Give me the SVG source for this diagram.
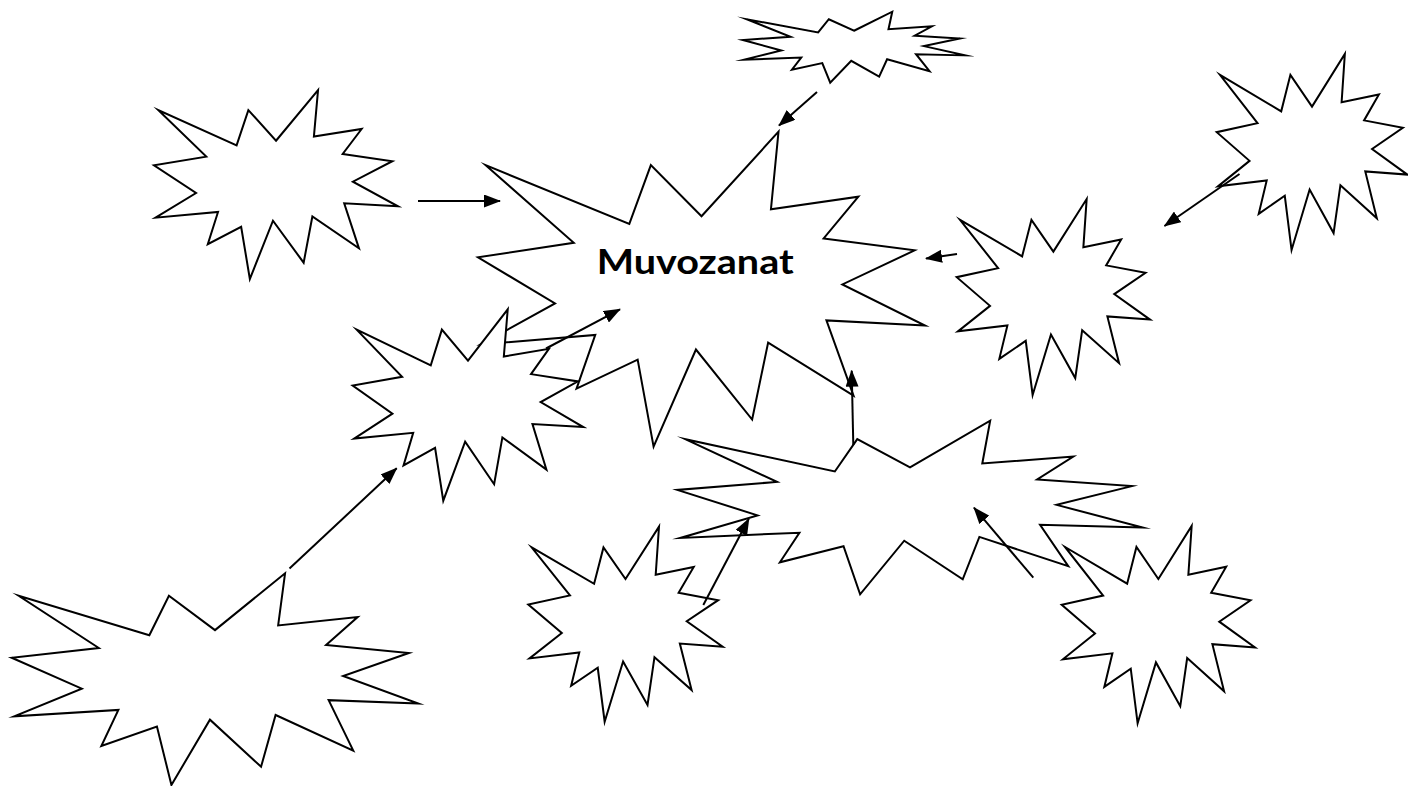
<svg xmlns="http://www.w3.org/2000/svg" width="1408" height="786" viewBox="0 0 1408 786">
<style>
.seal{fill:#ffffff;stroke:#000000;stroke-width:2;stroke-linejoin:miter;stroke-miterlimit:20}
.conn{fill:none;stroke:#000000;stroke-width:2}
.lbl{font-family:Lato,"Open Sans","Liberation Sans",sans-serif;font-weight:bold;font-size:34px;fill:#000000}
</style>
<defs>
<marker id="arr" markerUnits="userSpaceOnUse" markerWidth="17" markerHeight="13" refX="16" refY="6.5" orient="auto">
<path d="M0,0 L17,6.5 L0,13 Z" fill="#000000"/>
</marker>
</defs>
<rect width="1408" height="786" fill="#ffffff"/>

<g id="node-main">
<polygon class="seal" points="701.5,216.28 778.52,131.7 770.93,209.36 858.37,196.7 823.64,238.38 914.59,250.36 842.37,284.46 925,325.51 826.43,320.44 853.5,395.58 768.13,342.53 752.14,419.53 695.95,349.5 653.59,446.7 637.66,359.59 576.55,388.61 595.27,334.95 480.79,344.43 555.02,303.42 478,257.33 573.75,242.78 485.66,165.17 629.32,223.87 650.84,165.17"/>
<text class="lbl" x="596.7" y="274" textLength="197" lengthAdjust="spacingAndGlyphs">Muvozanat</text>
</g>

<g id="node-a">
<polygon class="seal" points="276,140.75 318.04,90 313.9,136.59 361.63,129 342.67,154.01 392.32,161.2 352.89,181.66 398,206.29 344.2,203.24 358.97,248.33 312.37,216.5 303.64,262.7 272.97,220.68 249.85,279 241.15,226.74 207.79,244.15 218.02,211.95 155.53,217.64 196.04,193.03 154,165.38 206.27,156.65 158.18,110.08 236.6,145.3 248.35,110.08"/>
</g>

<g id="node-c">
<polygon class="seal" points="854,30.76 892.25,11.7 888.48,29.2 931.91,26.35 914.66,35.74 959.83,38.45 923.96,46.13 965,55.38 916.05,54.24 929.49,71.18 887.09,59.22 879.15,76.58 851.24,60.79 830.21,82.7 822.29,63.07 791.94,69.61 801.24,57.51 744.39,59.65 781.25,50.41 743,40.02 790.55,36.74 746.8,19.24 818.15,32.47 828.84,19.24"/>
</g>

<g id="node-d">
<polygon class="seal" points="1312,106.63 1344.84,54 1341.6,102.32 1378.89,94.44 1364.08,120.38 1402.86,127.84 1372.07,149.05 1407.3,174.59 1365.27,171.44 1376.81,218.2 1340.41,185.18 1333.59,233.1 1309.63,189.52 1291.57,250 1284.78,195.8 1258.72,213.86 1266.71,180.47 1217.89,186.36 1249.54,160.85 1216.7,132.17 1257.53,123.12 1219.97,74.83 1281.22,111.35 1290.4,74.83"/>
</g>

<g id="node-e">
<polygon class="seal" points="1053.35,251.63 1086.66,199 1083.37,247.32 1121.18,239.44 1106.17,265.38 1145.5,272.84 1114.27,294.05 1150,319.59 1107.38,316.44 1119.08,363.2 1082.17,330.18 1075.25,378.1 1050.95,334.52 1032.63,395 1025.74,340.8 999.32,358.86 1007.41,325.47 957.91,331.36 990.01,305.85 956.7,277.17 998.11,268.12 960.01,219.83 1022.14,256.35 1031.44,219.83"/>
</g>

<g id="node-f">
<polygon class="seal" points="468,360.7 507.73,309.3 503.82,356.49 548.92,348.79 531.01,374.12 577.93,381.4 540.67,402.12 583.3,427.06 532.45,423.98 546.42,469.64 502.38,437.41 494.12,484.19 465.14,441.64 443.28,500.7 435.07,447.77 403.54,465.41 413.2,432.8 354.14,438.56 392.43,413.64 352.7,385.64 402.1,376.8 356.65,329.64 430.76,365.3 441.87,329.64"/>
</g>

<g id="node-g">
<polygon class="seal" points="910,467.31 990.19,420.7 982.29,463.5 1073.32,456.52 1037.17,479.49 1131.86,486.1 1056.67,504.89 1142.7,527.51 1040.07,524.72 1068.26,566.13 979.38,536.89 962.73,579.33 904.22,540.73 860.12,594.3 843.53,546.29 779.9,562.29 799.4,532.71 680.21,537.94 757.49,515.34 677.3,489.94 776.99,481.92 685.27,439.15 834.85,471.49 857.26,439.15"/>
</g>

<g id="node-h">
<polygon class="seal" points="215,630.15 285.06,573.3 278.15,625.49 357.69,616.98 326.1,644.99 408.83,653.05 343.14,675.96 418.3,703.55 328.64,700.14 353.26,750.65 275.61,714.99 261.06,766.74 209.95,719.68 171.42,785 156.93,726.46 101.34,745.96 118.38,709.89 14.24,716.26 81.76,688.71 11.7,657.73 98.8,647.95 18.67,595.79 149.34,635.24 168.92,595.79"/>
</g>

<g id="node-i">
<polygon class="seal" points="625.5,579.06 659,526.7 655.69,574.77 693.72,566.94 678.62,592.74 718.17,600.16 686.76,621.27 722.7,646.68 679.83,643.54 691.61,690.06 654.48,657.22 647.52,704.88 623.09,661.53 604.66,721.7 597.74,667.78 571.16,685.74 579.3,652.52 529.52,658.39 561.8,633 528.3,604.47 569.94,595.46 531.63,547.42 594.11,583.76 603.47,547.42"/>
</g>

<g id="node-j">
<polygon class="seal" points="1158.35,578.98 1191.66,526 1188.37,574.64 1226.18,566.71 1211.17,592.82 1250.5,600.32 1219.27,621.68 1255,647.39 1212.38,644.22 1224.08,691.28 1187.17,658.05 1180.25,706.28 1155.95,662.42 1137.63,723.3 1130.74,668.74 1104.32,686.92 1112.41,653.3 1062.91,659.24 1095.01,633.56 1061.7,604.69 1103.11,595.58 1065.01,546.96 1127.14,583.73 1136.44,546.96"/>
</g>

<g id="connectors">
<line class="conn" x1="418" y1="201" x2="500" y2="201" marker-end="url(#arr)"/>
<line class="conn" x1="817" y1="92" x2="779" y2="125.5" marker-end="url(#arr)"/>
<line class="conn" x1="1239.5" y1="174" x2="1164.5" y2="226" marker-end="url(#arr)"/>
<line class="conn" x1="957" y1="254" x2="926" y2="258.5" marker-end="url(#arr)"/>
<line class="conn" x1="546" y1="348.5" x2="620" y2="309.3" marker-end="url(#arr)"/>
<line class="conn" x1="289.5" y1="568.5" x2="396.7" y2="468.3" marker-end="url(#arr)"/>
<line class="conn" x1="853.3" y1="445" x2="851.7" y2="370.7" marker-end="url(#arr)"/>
<line class="conn" x1="703.3" y1="605" x2="748.8" y2="518.8" marker-end="url(#arr)"/>
<line class="conn" x1="1033.3" y1="577.7" x2="974" y2="507.7" marker-end="url(#arr)"/>
</g>
</svg>
